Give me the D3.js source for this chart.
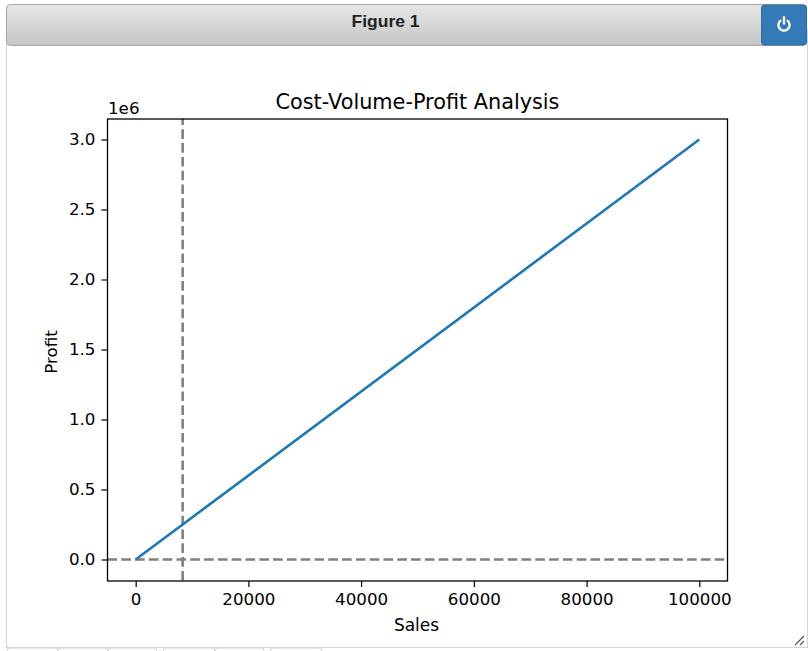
<!DOCTYPE html>
<html>
<head>
<meta charset="utf-8">
<script src="https://cdn.jsdelivr.net/npm/d3@7"></script>
<style>
  html, body { margin: 0; padding: 0; background: #fff; overflow: hidden; }
  text { font-family: "DejaVu Sans", sans-serif; fill: #000; }
</style>
</head>
<body>
<script>
var sales = [0, 100000];
var profit = [0, 3000000];
var break_even_sales = 8333;
var x_ticks = [0, 20000, 40000, 60000, 80000, 100000];
var y_ticks = [0, 500000, 1000000, 1500000, 2000000, 2500000, 3000000];
var tab_widths = [51, 50, 49, 52, 49, 52];
var tab_gaps = [0, 0, 0, 6, 0, 6];

var svg = d3.select("body").append("svg")
                           .attr("width", 808)
                           .attr("height", 651)
                           .style("display", "block");

// window chrome
var defs = svg.append("defs");
var grad = defs.append("linearGradient").attr("id", "title-grad")
               .attr("x1", 0).attr("y1", 0).attr("x2", 0).attr("y2", 1);
grad.append("stop").attr("offset", "0%").attr("stop-color", "#e6e6e6");
grad.append("stop").attr("offset", "100%").attr("stop-color", "#c6c6c6");

// little tabs peeking out under the figure
var tab_x = 7;
tab_widths.forEach(function(w, i) {
    tab_x += tab_gaps[i];
    svg.append("rect").attr("x", tab_x).attr("y", 648).attr("width", w).attr("height", 10)
       .attr("rx", 3).attr("fill", "#fff").attr("stroke", "#d3d3d3");
    tab_x += w;
});

svg.append("rect").attr("x", 6.5).attr("y", 30).attr("width", 801).attr("height", 617.5)
   .attr("fill", "#fff").attr("stroke", "#d3d3d3");
svg.append("rect").attr("x", 6.5).attr("y", 4.5).attr("width", 800).attr("height", 41)
   .attr("rx", 4).attr("fill", "url(#title-grad)").attr("stroke", "#a8a8a8");
svg.append("text").attr("x", 385.5).attr("y", 27).attr("text-anchor", "middle")
   .style("font-family", "'Liberation Sans', Arial, sans-serif")
   .style("font-size", "17px").style("font-weight", "bold").style("fill", "#222")
   .attr("textLength", 68).attr("lengthAdjust", "spacingAndGlyphs")
   .text("Figure 1");

// power button
svg.append("rect").attr("x", 761.5).attr("y", 5).attr("width", 45).attr("height", 40)
   .attr("rx", 3).attr("fill", "#337ab7").attr("stroke", "#2e6da4");
svg.append("path").attr("d", d3.arc()({innerRadius: 4.4, outerRadius: 6.8,
                                       startAngle: 0.55, endAngle: 2 * Math.PI - 0.55}))
   .attr("transform", "translate(784,25)").attr("fill", "#fff");
svg.append("rect").attr("x", 782.8).attr("y", 16.5).attr("width", 2.4).attr("height", 8).attr("fill", "#fff");

// resize grip
svg.append("path").attr("d", "M795,645 L804,636 M800,645 L804,641")
   .attr("stroke", "#555").attr("stroke-width", 1.2).attr("fill", "none");

// plot
var x = d3.scaleLinear().domain([-5000, 105000]).range([107.5, 727.5]);
var y = d3.scaleLinear().domain([-150000, 3150000]).range([580.5, 118.5]);

function tick_format_y(d) { return (d / 1000000).toFixed(1); }

var x_axis = svg.append("g").attr("transform", "translate(0,581)")
                .call(d3.axisBottom(x).tickValues(x_ticks).tickFormat(d3.format("d")).tickSize(6).tickPadding(6));
var y_axis = svg.append("g").attr("transform", "translate(107.5,0)")
                .call(d3.axisLeft(y).tickValues(y_ticks).tickFormat(tick_format_y).tickSize(6).tickPadding(6));

[x_axis, y_axis].forEach(function(a) {
    a.select(".domain").remove();
    a.selectAll("line").attr("stroke", "#000").attr("stroke-width", 1.2);
    a.selectAll("text").style("font-family", "'DejaVu Sans'").style("font-size", "16.7px").style("fill", "#000");
});

// reference lines
svg.append("line").attr("x1", x.range()[0]).attr("x2", x.range()[1])
   .attr("y1", y(0)).attr("y2", y(0))
   .attr("stroke", "#808080").attr("stroke-width", 2.6).attr("stroke-dasharray", "9.6,4.2");
svg.append("line").attr("x1", x(break_even_sales)).attr("x2", x(break_even_sales))
   .attr("y1", y.range()[0]).attr("y2", y.range()[1])
   .attr("stroke", "#808080").attr("stroke-width", 2.6).attr("stroke-dasharray", "9.6,4.2");

var line = d3.line().x(function(d) { return x(d); })
                    .y(function(d, i) { return y(profit[i]); });
svg.append("path").datum(sales).attr("d", line)
   .attr("fill", "none").attr("stroke", "#1f77b4").attr("stroke-width", 2.6);

svg.append("rect").attr("x", 107.5).attr("y", 119).attr("width", 620).attr("height", 462)
   .attr("fill", "none").attr("stroke", "#000").attr("stroke-width", 1.3);

svg.append("text").attr("x", 417.5).attr("y", 109).attr("text-anchor", "middle")
   .style("font-size", "20.8px").text("Cost-Volume-Profit Analysis");
svg.append("text").attr("x", 108).attr("y", 114).style("font-size", "16.7px").text("1e6");
svg.append("text").attr("x", 416.5).attr("y", 631).attr("text-anchor", "middle")
   .style("font-size", "17px").text("Sales");
svg.append("text").attr("transform", "translate(57,352) rotate(-90)").attr("text-anchor", "middle")
   .style("font-size", "16.7px").text("Profit");
</script>
</body>
</html>
